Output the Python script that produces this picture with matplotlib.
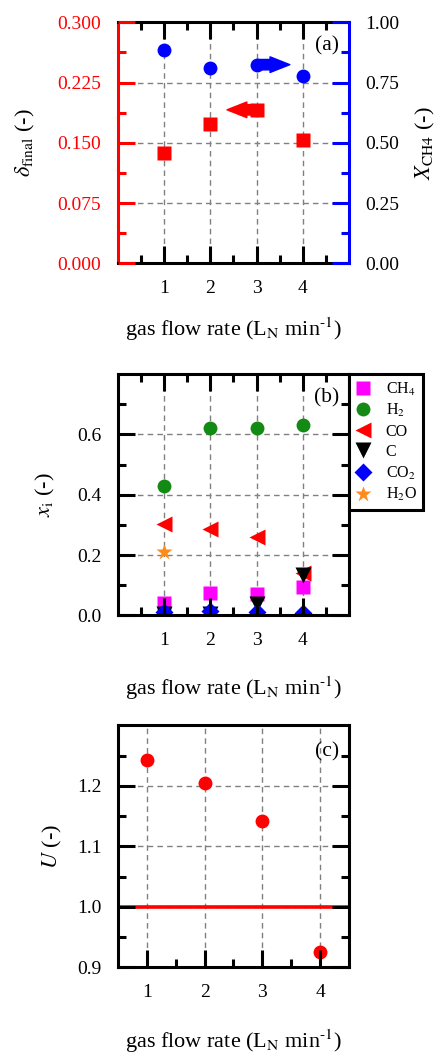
import numpy as np
import matplotlib
matplotlib.use("Agg")
import matplotlib.pyplot as plt
from matplotlib.ticker import FixedLocator, FormatStrFormatter

plt.rcParams['font.family'] = ['Liberation Serif', 'DejaVu Serif']
plt.rcParams['mathtext.fontset'] = 'stix'

# ---- data ----
flow = [1, 2, 3, 4]

# (a) final delta and methane conversion
delta_final = [0.137, 0.173, 0.191, 0.153]
x_ch4 = [0.885, 0.810, 0.824, 0.778]

# (b) product mole fractions
species = ['CH$_4$', 'H$_2$', 'CO', 'C', 'CO$_2$', 'H$_2$O']
frac_ch4 = [0.042, 0.074, 0.070, 0.094]
frac_h2 = [0.429, 0.622, 0.622, 0.631]
frac_co = [0.303, 0.286, 0.260, 0.139]
frac_c = [0.004, 0.004, 0.037, 0.134]
frac_co2 = [0.012, 0.014, 0.012, 0.008]
frac_h2o = [0.211, 0.002, 0.003, 0.002]

# (c) U factor
u_val = [1.242, 1.204, 1.141, 0.926]
u_ref = 1.0

XLABEL = r'gas flow rate (L$_{\rm N}$ min$^{\text{-1}}$)'
SPINE_W = 2.2
GRID_KW = dict(color='#808080', lw=1.0, ls=(0, (4, 3)), zorder=1)
TICK_FS = 14


def style_axis(ax, xmaj, xmin, ymaj, ymin):
    ax.set_axisbelow(False)
    ax.xaxis.set_major_locator(FixedLocator(xmaj))
    ax.xaxis.set_minor_locator(FixedLocator(xmin))
    ax.yaxis.set_major_locator(FixedLocator(ymaj))
    ax.yaxis.set_minor_locator(FixedLocator(ymin))
    ax.tick_params(which='both', direction='in', width=SPINE_W,
                   labelsize=TICK_FS, pad=12)
    ax.tick_params(which='major', length=12)
    ax.tick_params(which='minor', length=6)
    for s in ax.spines.values():
        s.set_linewidth(SPINE_W)
    lo, hi = ax.get_xlim()
    for x in xmaj:
        if lo < x < hi:
            ax.axvline(x, **GRID_KW)
    lo, hi = ax.get_ylim()
    for y in ymaj:
        if lo < y < hi:
            ax.axhline(y, **GRID_KW)


ARROW = 'simple,head_length=0.95,head_width=0.75,tail_width=0.5'

fig = plt.figure(figsize=(4.38, 10.54), dpi=100)
L, W = 0.2694, 0.5274

# ---------------- (a) ----------------
ax = fig.add_axes([L, 0.7502, W, 0.2287])
ax.set_xlim(0, 5)
ax.set_ylim(0, 0.3)
style_axis(ax, [1, 2, 3, 4], [0.5, 1.5, 2.5, 3.5, 4.5],
           [0.0, 0.075, 0.15, 0.225, 0.3], [0.0375, 0.1125, 0.1875, 0.2625])
ax.yaxis.set_major_formatter(FormatStrFormatter('%.3f'))
ax.tick_params(axis='x', which='both', top=True, bottom=True)
ax.tick_params(axis='y', which='both', left=True, right=False,
               colors='red')
ax.spines['left'].set_color('red')
ax.spines['right'].set_visible(False)
ax.plot(flow, delta_final, 's', color='red', ms=10, mec='none')
ax.annotate('', xy=(2.36, delta_final[2]), xytext=(2.95, delta_final[2]),
            arrowprops=dict(arrowstyle=ARROW, color='red', shrinkA=0,
                            shrinkB=0, mutation_scale=15))
ax.set_ylabel(r'$\delta_{\rm final}$ (-)', fontsize=16, color='black')
ax.yaxis.set_label_coords(-0.35, 0.5)
ax.set_xlabel(XLABEL, fontsize=16)
ax.xaxis.set_label_coords(0.5, -0.215)
ax.text(0.957, 0.90, '(a)', transform=ax.transAxes, ha='right',
        va='center', fontsize=15.5)

ax2 = ax.twinx()
ax2.set_ylim(0, 1.0)
ax2.set_axisbelow(False)
ax2.yaxis.set_major_locator(FixedLocator([0, 0.25, 0.5, 0.75, 1.0]))
ax2.yaxis.set_minor_locator(FixedLocator([0.125, 0.375, 0.625, 0.875]))
ax2.yaxis.set_major_formatter(FormatStrFormatter('%.2f'))
ax2.tick_params(axis='y', which='both', direction='in', width=SPINE_W,
                labelsize=TICK_FS, pad=12, colors='blue', labelcolor='black')
ax2.tick_params(axis='y', which='major', length=12)
ax2.tick_params(axis='y', which='minor', length=6)
for side in ['left', 'top', 'bottom']:
    ax2.spines[side].set_visible(False)
ax2.spines['right'].set_color('blue')
ax2.spines['right'].set_linewidth(SPINE_W)
ax2.plot(flow, x_ch4, 'o', color='blue', ms=10, mec='none')
ax2.annotate('', xy=(3.72, x_ch4[2]), xytext=(3.05, x_ch4[2]),
             arrowprops=dict(arrowstyle=ARROW, color='blue', shrinkA=0,
                             shrinkB=0, mutation_scale=15))
ax2.set_ylabel(r'$X_{\rm CH4}$ (-)', fontsize=16)
ax2.yaxis.set_label_coords(1.28, 0.5)
ax.tick_params(axis='y', labelcolor='red')

# ---------------- (b) ----------------
bx = fig.add_axes([L, 0.4162, W, 0.2289])
bx.set_xlim(0, 5)
bx.set_ylim(0, 0.8)
style_axis(bx, [1, 2, 3, 4], [0.5, 1.5, 2.5, 3.5, 4.5],
           [0.0, 0.2, 0.4, 0.6], [0.1, 0.3, 0.5, 0.7])
bx.yaxis.set_major_formatter(FormatStrFormatter('%.1f'))
bx.tick_params(which='both', top=True, right=True)

ms_b = 10
h_ch4, = bx.plot(flow, frac_ch4, 's', color='#ff00ff', ms=ms_b, mec='none')
h_h2, = bx.plot(flow, frac_h2, 'o', color='#138a13', ms=ms_b, mec='none')
h_co, = bx.plot(flow, frac_co, '<', color='red', ms=ms_b + 1, mec='none')
h_c, = bx.plot(flow, frac_c, 'v', color='black', ms=ms_b + 1, mec='none')
h_h2o, = bx.plot(flow, frac_h2o, '*', color='#ff8c1a', ms=ms_b + 2, mec='none')
h_co2, = bx.plot(flow, frac_co2, 'D', color='blue', ms=ms_b - 1, mec='none')

leg = bx.legend([h_ch4, h_h2, h_co, h_c, h_co2, h_h2o], species,
                loc='upper left', bbox_to_anchor=(1.0, 1.0),
                borderaxespad=0, fancybox=False, framealpha=1,
                edgecolor='black', fontsize=11.5, handlelength=1.0,
                handletextpad=0.9, labelspacing=0.28, borderpad=0.4)
leg.get_frame().set_linewidth(SPINE_W)
bx.set_ylabel(r'$x_{\rm i}$ (-)', fontsize=16)
bx.yaxis.set_label_coords(-0.265, 0.5)
bx.set_xlabel(XLABEL, fontsize=16)
bx.xaxis.set_label_coords(0.5, -0.245)
bx.text(0.957, 0.90, '(b)', transform=bx.transAxes, ha='right',
        va='center', fontsize=15.5)

# ---------------- (c) ----------------
cx = fig.add_axes([L, 0.0823, W, 0.2296])
cx.set_xlim(0.5, 4.5)
cx.set_ylim(0.9, 1.3)
style_axis(cx, [1, 2, 3, 4], [1.5, 2.5, 3.5],
           [0.9, 1.0, 1.1, 1.2], [0.95, 1.05, 1.15, 1.25])
cx.yaxis.set_major_formatter(FormatStrFormatter('%.1f'))
cx.tick_params(which='both', top=False, right=True)
cx.axhline(u_ref, color='red', lw=2.6, zorder=2)
cx.plot(flow, u_val, 'o', color='red', ms=10, mec='none')
cx.set_ylabel(r'$U$ (-)', fontsize=16)
cx.yaxis.set_label_coords(-0.235, 0.5)
cx.set_xlabel(XLABEL, fontsize=16)
cx.xaxis.set_label_coords(0.5, -0.25)
cx.text(0.957, 0.89, '(c)', transform=cx.transAxes, ha='right',
        va='center', fontsize=15.5)

fig.savefig('out.png', dpi=100)
